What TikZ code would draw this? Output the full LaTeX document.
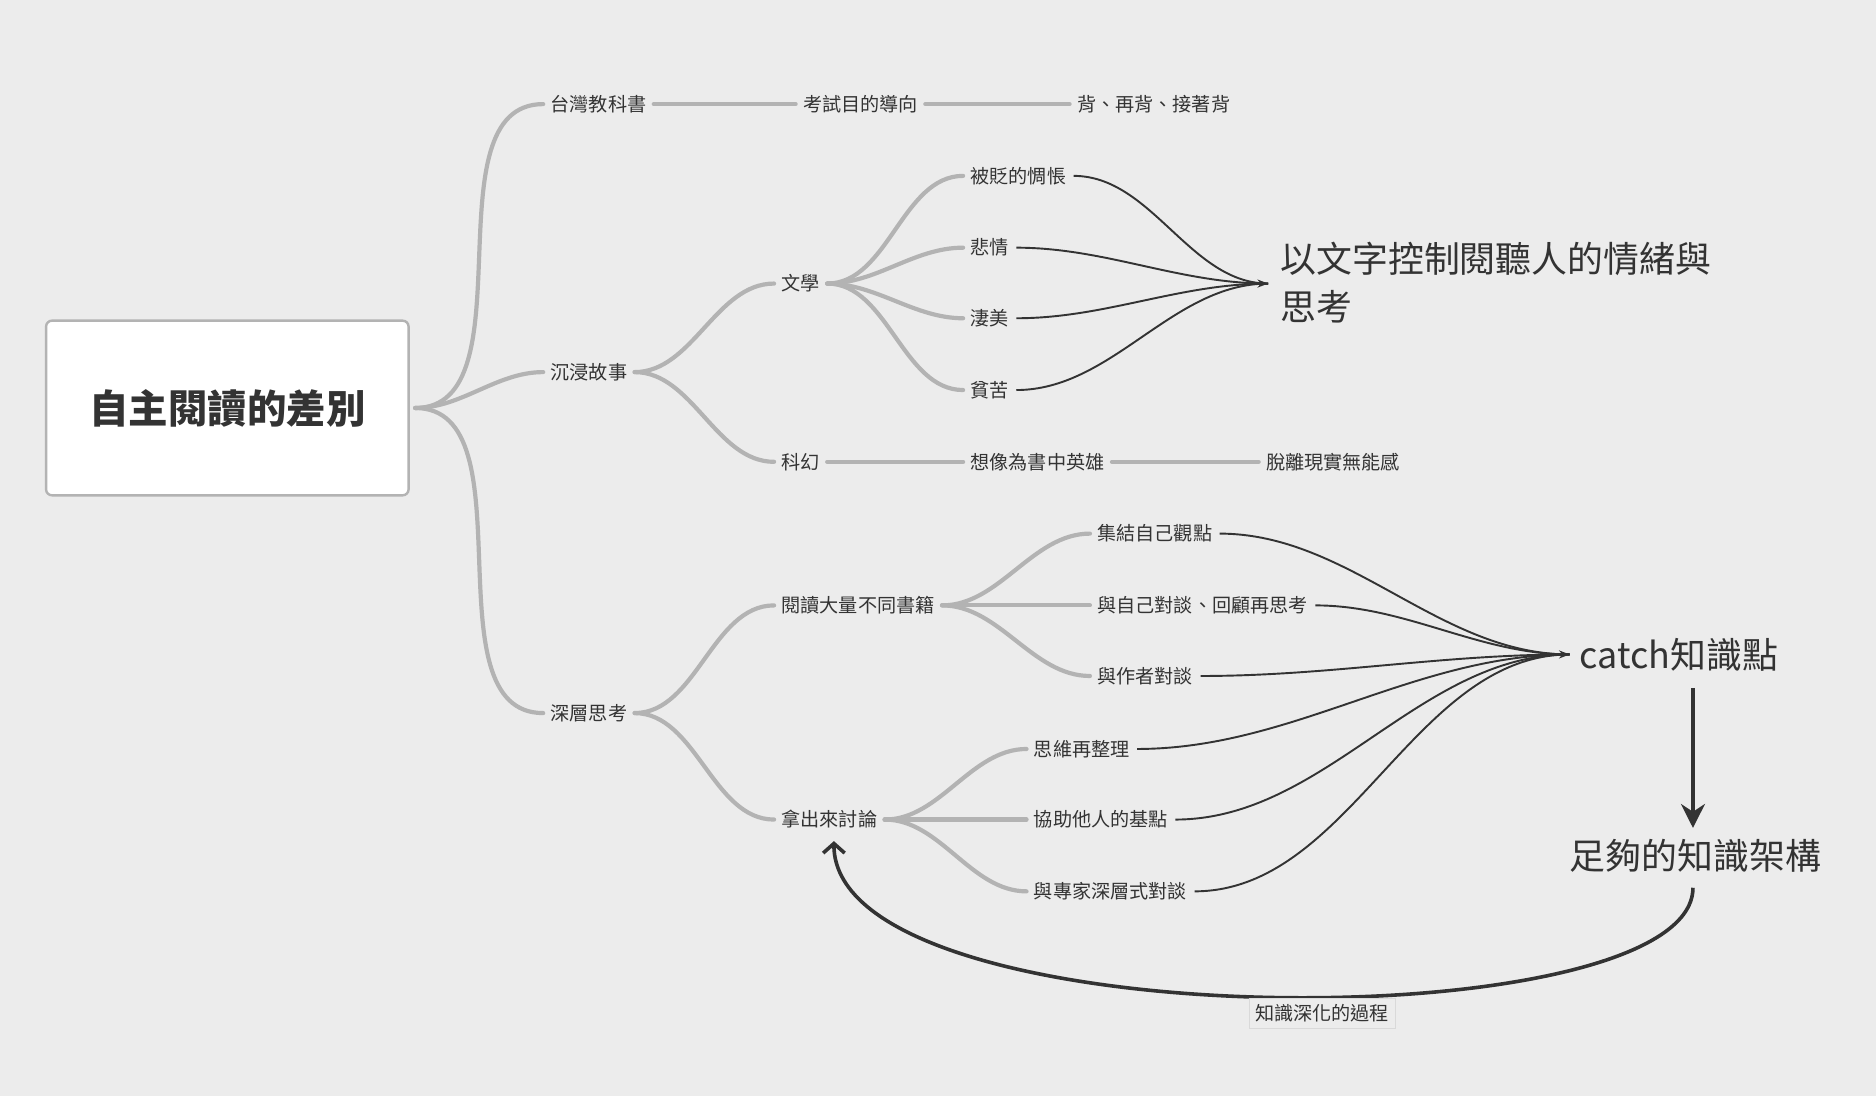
\documentclass[tikz,border=0pt]{standalone}
\usepackage{fontspec}
\setmainfont{Noto Sans CJK TC}
\usetikzlibrary{arrows.meta}
\definecolor{bg}{HTML}{ECECEC}
\definecolor{br}{HTML}{B3B3B3}
\definecolor{dk}{HTML}{333333}
\begin{document}
\begin{tikzpicture}[x=1pt,y=-1pt,
  lbl/.style={anchor=west,inner sep=6pt,font=\fontsize{16}{18}\selectfont,text=dk},
  big/.style={anchor=west,inner sep=4pt,font=\fontsize{30}{40}\selectfont,text=dk,align=left},
  gb/.style={draw=br,line width=3.5pt,line cap=round},
  cv/.style={gb,out=0,in=180,looseness=0.9},
  dl/.style={draw=dk,line width=1.6pt,out=0,in=180,looseness=0.9}]
\fill[bg] (0,0) rectangle (1568,916);
\useasboundingbox (0,0) rectangle (1568,916);
\node[draw=br,line width=2pt,fill=white,rounded corners=5pt,minimum width=303pt,minimum height=146pt,font=\fontsize{33}{40}\selectfont\bfseries,text=dk] (root) at (190,341) {自主閱讀的差別};
\node[lbl] (tw) at (454,87) {台灣教科書};
\node[lbl] (ks) at (665,87) {考試目的導向};
\node[lbl] (bb) at (894,87) {背、再背、接著背};
\node[lbl] (cj) at (454,311) {沉浸故事};
\node[lbl] (sc) at (454,596) {深層思考};
\node[lbl] (wx) at (647,237) {文學};
\node[lbl] (kh) at (647,386) {科幻};
\node[lbl] (b1) at (805,147) {被貶的惆悵};
\node[lbl] (b2) at (805,207) {悲情};
\node[lbl] (b3) at (805,266) {淒美};
\node[lbl] (b4) at (805,326) {貧苦};
\node[lbl] (xx) at (805,386) {想像為書中英雄};
\node[lbl] (tl) at (1052,386) {脫離現實無能感};
\node[lbl] (yd) at (647,506) {閱讀大量不同書籍};
\node[lbl] (nc) at (647,685) {拿出來討論};
\node[lbl] (c1) at (911,446) {集結自己觀點};
\node[lbl] (c2) at (911,506) {與自己對談、回顧再思考};
\node[lbl] (c3) at (911,565) {與作者對談};
\node[lbl] (d1) at (858,626) {思維再整理};
\node[lbl] (d2) at (858,685) {協助他人的基點};
\node[lbl] (d3) at (858,745) {與專家深層式對談};
\node[big] (wz) at (1066,236) {以文字控制閱聽人的情緒與\\思考};
\node[big] (ct) at (1316,547) {catch知識點};
\node[big,anchor=center] (zg) at (1417,715) {足夠的知識架構};
\coordinate (o) at (347,341);
\foreach \n in {tw,cj,sc} \draw[cv] (o) to (\n.west);
\draw[gb] (tw.east) -- (ks.west);
\draw[gb] (ks.east) -- (bb.west);
\foreach \n in {wx,kh} \draw[cv] (cj.east) to (\n.west);
\foreach \n in {b1,b2,b3,b4} \draw[cv] (wx.east) to (\n.west);
\draw[gb] (kh.east) -- (xx.west);
\draw[gb] (xx.east) -- (tl.west);
\foreach \n in {yd,nc} \draw[cv] (sc.east) to (\n.west);
\foreach \n in {c1,c2,c3} \draw[cv] (yd.east) to (\n.west);
\foreach \n in {d1,d2,d3} \draw[cv] (nc.east) to (\n.west);
\coordinate (wa) at (1060,237);
\foreach \n in {b1,b2,b3,b4} \draw[dl] (\n.east) to (wa);
\draw[-{Stealth[length=9pt]},draw=dk,line width=1.6pt] (b4.east)++(0,0) ++(190,-89) -- (wa);
\coordinate (ca) at (1312,547);
\foreach \n in {c1,c2,c3,d1,d2,d3} \draw[dl] (\n.east) to (ca);
\draw[-{Stealth[length=9pt]},draw=dk,line width=1.6pt] (1300,547) -- (ca);
\draw[draw=dk,line width=3pt,-{Stealth[length=20pt,width=20pt]}] (1415,575) -- (1415,692);
\draw[draw=dk,line width=3pt,-{Straight Barb[length=8pt,width=18pt]}] (1415,742) .. controls (1415,870) and (697,870) .. (697,703);
\node[draw=white!85!black,fill=bg,inner sep=5pt,font=\fontsize{16}{18}\selectfont,text=dk] (lb) at (1105,847) {知識深化的過程};
\end{tikzpicture}
\end{document}
